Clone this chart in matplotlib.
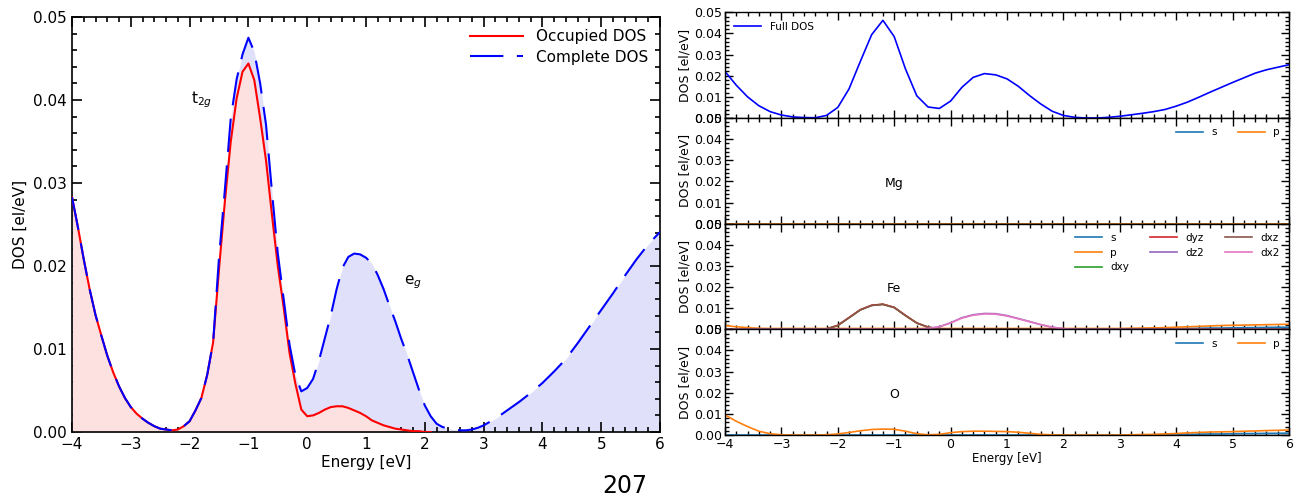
import numpy as np
import matplotlib
matplotlib.use("Agg")
import matplotlib.pyplot as plt
from matplotlib.ticker import MultipleLocator, FormatStrFormatter

# ---------------- Left panel data ----------------
energy_complete = [-4.0, -3.9, -3.8, -3.7, -3.6, -3.5, -3.4, -3.3, -3.2, -3.1, -3.0, -2.9, -2.8, -2.7,
                   -2.6, -2.5, -2.4, -2.3, -2.2, -2.1, -2.0, -1.9, -1.8, -1.7, -1.6, -1.5, -1.4, -1.3,
                   -1.2, -1.1, -1.0, -0.9, -0.8, -0.7, -0.6, -0.5, -0.4, -0.3, -0.2, -0.1, 0.0, 0.1,
                   0.2, 0.3, 0.4, 0.5, 0.6, 0.7, 0.8, 0.9, 1.0, 1.1, 1.2, 1.3, 1.4, 1.5, 1.6, 1.7, 1.8,
                   1.9, 2.0, 2.1, 2.2, 2.3, 2.4, 2.5, 2.6, 2.7, 2.8, 2.9, 3.0, 3.2, 3.4, 3.6, 3.8, 4.0,
                   4.2, 4.4, 4.6, 4.8, 5.0, 5.2, 5.4, 5.6, 5.8, 6.0]
complete_dos = [0.0283, 0.0247, 0.0208, 0.0172, 0.0141, 0.0116, 0.0092, 0.0072, 0.0055, 0.0041, 0.0030,
                0.0022, 0.0016, 0.0011, 0.0007, 0.0004, 0.0003, 0.0002, 0.0003, 0.0007, 0.0013, 0.0026,
                0.0041, 0.0069, 0.0108, 0.0210, 0.0292, 0.0378, 0.0425, 0.0455, 0.0475, 0.0458, 0.0420,
                0.0370, 0.0290, 0.0215, 0.0160, 0.0105, 0.0068, 0.0049, 0.0053, 0.0064, 0.0086, 0.0113,
                0.0140, 0.0172, 0.0198, 0.0211, 0.0215, 0.0214, 0.0210, 0.0203, 0.0189, 0.0172, 0.0152,
                0.0133, 0.0112, 0.0093, 0.0072, 0.0051, 0.0032, 0.0019, 0.0010, 0.0006, 0.0004, 0.0003,
                0.0002, 0.0002, 0.0003, 0.0005, 0.0008, 0.0016, 0.0026, 0.0036, 0.0047, 0.0059, 0.0073,
                0.0088, 0.0107, 0.0127, 0.0147, 0.0167, 0.0188, 0.0208, 0.0226, 0.0241]

energy_occupied = [-4.0, -3.9, -3.8, -3.7, -3.6, -3.5, -3.4, -3.3, -3.2, -3.1, -3.0, -2.9, -2.8, -2.7,
                   -2.6, -2.5, -2.4, -2.3, -2.2, -2.1, -2.0, -1.9, -1.8, -1.7, -1.6, -1.5, -1.4, -1.3,
                   -1.2, -1.1, -1.0, -0.9, -0.8, -0.7, -0.6, -0.5, -0.4, -0.3, -0.2, -0.1, 0.0, 0.1,
                   0.2, 0.3, 0.4, 0.5, 0.6, 0.7, 0.8, 0.9, 1.0, 1.1, 1.2, 1.3, 1.4, 1.5, 1.6, 1.7, 1.8,
                   1.9, 2.0, 2.1]
occupied_dos = [0.0283, 0.0247, 0.0208, 0.0172, 0.0141, 0.0116, 0.0092, 0.0072, 0.0055, 0.0041, 0.0030,
                0.0022, 0.0016, 0.0011, 0.0007, 0.0004, 0.0003, 0.0002, 0.0003, 0.0007, 0.0013, 0.0026,
                0.0041, 0.0069, 0.0108, 0.0196, 0.0278, 0.0350, 0.0402, 0.0434, 0.0444, 0.0424, 0.0378,
                0.0327, 0.0262, 0.0200, 0.0150, 0.0095, 0.0058, 0.0027, 0.0019, 0.0020, 0.0023, 0.0027,
                0.0030, 0.0031, 0.0031, 0.0029, 0.0026, 0.0023, 0.0019, 0.0014, 0.0011, 0.0008, 0.0006,
                0.0004, 0.0003, 0.0002, 0.0001, 0.0001, 0.0000, 0.0000]

# ---------------- Right panel data ----------------
energy_r = [-4.0, -3.8, -3.6, -3.4, -3.2, -3.0, -2.8, -2.6, -2.4, -2.2, -2.0, -1.8, -1.6, -1.4, -1.2,
            -1.0, -0.8, -0.6, -0.4, -0.2, 0.0, 0.2, 0.4, 0.6, 0.8, 1.0, 1.2, 1.4, 1.6, 1.8, 2.0, 2.2,
            2.4, 2.6, 2.8, 3.0, 3.2, 3.4, 3.6, 3.8, 4.0, 4.2, 4.4, 4.6, 4.8, 5.0, 5.2, 5.4, 5.6, 5.8, 6.0]
full_dos = [0.0220, 0.0155, 0.0100, 0.0058, 0.0030, 0.0014, 0.0005, 0.0002, 0.0001, 0.0012, 0.0050,
            0.0138, 0.0268, 0.0394, 0.0462, 0.0385, 0.0232, 0.0105, 0.0052, 0.0045, 0.0080, 0.0145,
            0.0192, 0.0210, 0.0204, 0.0185, 0.0150, 0.0106, 0.0066, 0.0032, 0.0012, 0.0003, 0.0000,
            0.0000, 0.0003, 0.0008, 0.0015, 0.0022, 0.0030, 0.0040, 0.0056, 0.0075, 0.0098, 0.0122,
            0.0145, 0.0168, 0.0190, 0.0212, 0.0228, 0.0240, 0.0252]

mg_s = [0.0] * len(energy_r)
mg_p = [0.0] * len(energy_r)

fe_s = [0.0, 0.0, 0.0, 0.0, 0.0, 0.0, 0.0, 0.0, 0.0, 0.0, 0.0, 0.0, 0.0, 0.0, 0.0, 0.0, 0.0, 0.0,
        0.0, 0.0, 0.0, 0.0, 0.0, 0.0, 0.0, 0.0, 0.0, 0.0, 0.0, 0.0, 0.0, 0.0, 0.0, 0.0, 0.0, 0.0,
        0.0001, 0.0002, 0.0002, 0.0003, 0.0004, 0.0004, 0.0005, 0.0006, 0.0006, 0.0007, 0.0008,
        0.0008, 0.0009, 0.0010, 0.0010]
fe_p = [0.0018, 0.0012, 0.0008, 0.0005, 0.0004, 0.0004, 0.0004, 0.0004, 0.0004, 0.0004, 0.0004,
        0.0004, 0.0004, 0.0004, 0.0004, 0.0004, 0.0004, 0.0004, 0.0004, 0.0004, 0.0004, 0.0004,
        0.0004, 0.0004, 0.0004, 0.0004, 0.0004, 0.0004, 0.0004, 0.0004, 0.0004, 0.0004, 0.0004,
        0.0004, 0.0004, 0.0004, 0.0005, 0.0006, 0.0007, 0.0008, 0.0010, 0.0012, 0.0014, 0.0016,
        0.0018, 0.0019, 0.0020, 0.0021, 0.0022, 0.0023, 0.0024]
fe_dxy = [0.0, 0.0, 0.0, 0.0, 0.0, 0.0, 0.0, 0.0, 0.0, 0.0002, 0.0018, 0.0055, 0.0092, 0.0113, 0.0118,
          0.0103, 0.0065, 0.0030, 0.0010, 0.0003, 0.0001, 0.0, 0.0, 0.0, 0.0, 0.0, 0.0, 0.0, 0.0, 0.0,
          0.0, 0.0, 0.0, 0.0, 0.0, 0.0, 0.0, 0.0, 0.0, 0.0, 0.0, 0.0, 0.0, 0.0, 0.0, 0.0, 0.0, 0.0,
          0.0, 0.0, 0.0]
fe_dyz = [0.0, 0.0, 0.0, 0.0, 0.0, 0.0, 0.0, 0.0, 0.0, 0.0002, 0.0019, 0.0056, 0.0093, 0.0114, 0.0119,
          0.0104, 0.0066, 0.0030, 0.0010, 0.0003, 0.0001, 0.0, 0.0, 0.0, 0.0, 0.0, 0.0, 0.0, 0.0, 0.0,
          0.0, 0.0, 0.0, 0.0, 0.0, 0.0, 0.0, 0.0, 0.0, 0.0, 0.0, 0.0, 0.0, 0.0, 0.0, 0.0, 0.0, 0.0,
          0.0, 0.0, 0.0]
fe_dxz = [0.0, 0.0, 0.0, 0.0, 0.0, 0.0, 0.0, 0.0, 0.0, 0.0002, 0.0018, 0.0055, 0.0092, 0.0113, 0.0118,
          0.0103, 0.0065, 0.0030, 0.0010, 0.0003, 0.0001, 0.0, 0.0, 0.0, 0.0, 0.0, 0.0, 0.0, 0.0, 0.0,
          0.0, 0.0, 0.0, 0.0, 0.0, 0.0, 0.0, 0.0, 0.0, 0.0, 0.0, 0.0, 0.0, 0.0, 0.0, 0.0, 0.0, 0.0,
          0.0, 0.0, 0.0]
fe_dz2 = [0.0, 0.0, 0.0, 0.0, 0.0, 0.0, 0.0, 0.0, 0.0, 0.0, 0.0, 0.0, 0.0, 0.0, 0.0, 0.0, 0.0, 0.0,
          0.0004, 0.0012, 0.0031, 0.0055, 0.0069, 0.0075, 0.0074, 0.0065, 0.0051, 0.0037, 0.0022,
          0.0010, 0.0003, 0.0, 0.0, 0.0, 0.0, 0.0, 0.0, 0.0, 0.0, 0.0, 0.0, 0.0, 0.0, 0.0, 0.0, 0.0,
          0.0, 0.0, 0.0, 0.0, 0.0]
fe_dx2 = [0.0, 0.0, 0.0, 0.0, 0.0, 0.0, 0.0, 0.0, 0.0, 0.0, 0.0, 0.0, 0.0, 0.0, 0.0, 0.0, 0.0, 0.0,
          0.0004, 0.0012, 0.0030, 0.0053, 0.0067, 0.0073, 0.0072, 0.0063, 0.0050, 0.0036, 0.0022,
          0.0010, 0.0003, 0.0, 0.0, 0.0, 0.0, 0.0, 0.0, 0.0, 0.0, 0.0, 0.0, 0.0, 0.0, 0.0, 0.0, 0.0,
          0.0, 0.0, 0.0, 0.0, 0.0]

o_s = [0.0, 0.0, 0.0, 0.0, 0.0, 0.0, 0.0, 0.0, 0.0, 0.0, 0.0, 0.0, 0.0, 0.0, 0.0, 0.0, 0.0, 0.0,
       0.0, 0.0, 0.0, 0.0, 0.0, 0.0, 0.0, 0.0, 0.0, 0.0, 0.0, 0.0, 0.0, 0.0, 0.0, 0.0, 0.0, 0.0,
       0.0, 0.0, 0.0001, 0.0002, 0.0003, 0.0003, 0.0004, 0.0005, 0.0005, 0.0006, 0.0007, 0.0007,
       0.0008, 0.0008, 0.0009]
o_p = [0.0095, 0.0065, 0.0040, 0.0018, 0.0006, 0.0001, 0.0, 0.0, 0.0, 0.0001, 0.0005, 0.0012, 0.0020,
       0.0026, 0.0028, 0.0027, 0.0018, 0.0006, 0.0001, 0.0003, 0.0011, 0.0016, 0.0018, 0.0018, 0.0017,
       0.0016, 0.0013, 0.0008, 0.0003, 0.0001, 0.0, 0.0, 0.0, 0.0, 0.0, 0.0, 0.0001, 0.0002, 0.0003,
       0.0005, 0.0007, 0.0010, 0.0012, 0.0014, 0.0015, 0.0016, 0.0018, 0.0019, 0.0021, 0.0022, 0.0024]

# ---------------- Figure ----------------
W, H = 1305, 499
fig = plt.figure(figsize=(W / 100, H / 100), dpi=100)


def fx(px):
    return px / W


def fy(py):
    return 1 - py / H


# Left axes
axL = fig.add_axes([fx(72), fy(432), fx(660) - fx(72), fy(17) - fy(432)])
axL.fill_between(energy_complete, complete_dos, 0, color="#e0e0fb", lw=0, zorder=1)
axL.fill_between(energy_occupied, occupied_dos, 0, color="#fde0e0", lw=0, zorder=2)
axL.plot(energy_occupied, occupied_dos, color="red", lw=1.5, label="Occupied DOS", zorder=3)
axL.plot(energy_complete, complete_dos, color="blue", lw=1.5, ls=(0, (16, 6.5)),
         label="Complete DOS", zorder=4)
axL.set_xlim(-4, 6)
axL.set_ylim(0, 0.05)
axL.xaxis.set_major_locator(MultipleLocator(1))
axL.xaxis.set_minor_locator(MultipleLocator(0.2))
axL.yaxis.set_major_locator(MultipleLocator(0.01))
axL.yaxis.set_minor_locator(MultipleLocator(0.002))
axL.yaxis.set_major_formatter(FormatStrFormatter("%.2f"))
axL.tick_params(which="both", direction="in", top=True, right=True, width=1.2)
axL.tick_params(which="major", length=7, labelsize=11)
axL.tick_params(which="minor", length=3.3)
for s in axL.spines.values():
    s.set_linewidth(1.2)
axL.set_xlabel("Energy [eV]", fontsize=11, labelpad=2)
axL.set_ylabel("DOS [el/eV]", fontsize=11, labelpad=4)
axL.text(-1.97, 0.0400, r"t$_{2g}$", fontsize=11, va="center", ha="left")
axL.text(1.65, 0.0180, r"e$_{g}$", fontsize=11, va="center", ha="left")
axL.legend(loc="upper right", frameon=False, fontsize=11, handlelength=3.5,
           borderaxespad=0.4, labelspacing=0.35)

# Right axes (4 stacked)
top_px, bot_px = 12.3, 435
h_px = (bot_px - top_px) / 4
axes_r = []
for i in range(4):
    t = top_px + i * h_px
    ax = fig.add_axes([fx(725), fy(t + h_px), fx(1289) - fx(725), h_px / H])
    axes_r.append(ax)

tab = plt.get_cmap("tab10").colors

ax = axes_r[0]
ax.plot(energy_r, full_dos, color="blue", lw=1.2, label="Full DOS")
ax.legend(loc="upper left", frameon=False, fontsize=7.5, handlelength=2.6)

ax = axes_r[1]
ax.plot(energy_r, mg_s, color=tab[0], lw=1.2, label="s")
ax.plot(energy_r, mg_p, color=tab[1], lw=1.2, label="p")
ax.text(-1.0, 0.0192, "Mg", fontsize=9, ha="center", va="center")
ax.legend(loc="upper right", frameon=False, fontsize=7.5, ncol=2, handlelength=2.6)

ax = axes_r[2]
ax.fill_between(energy_r, 0, fe_s, color="slategray", alpha=0.5, lw=0)
ax.plot(energy_r, fe_s, color=tab[0], lw=1.2, label="s")
ax.plot(energy_r, fe_p, color=tab[1], lw=1.2, label="p")
ax.plot(energy_r, fe_dxy, color=tab[2], lw=1.2, label="dxy")
ax.plot(energy_r, fe_dyz, color=tab[3], lw=1.2, label="dyz")
ax.plot(energy_r, fe_dz2, color=tab[4], lw=1.2, label="dz2")
ax.plot(energy_r, fe_dxz, color=tab[5], lw=1.2, label="dxz")
ax.plot(energy_r, fe_dx2, color=tab[6], lw=1.2, label="dx2")
ax.text(-1.0, 0.0192, "Fe", fontsize=9, ha="center", va="center")
ax.legend(loc="upper right", frameon=False, fontsize=7.5, ncol=3, handlelength=2.6,
          labelspacing=0.45)

ax = axes_r[3]
ax.fill_between(energy_r, 0, o_s, color="slategray", alpha=0.5, lw=0)
ax.plot(energy_r, o_s, color=tab[0], lw=1.2, label="s")
ax.plot(energy_r, o_p, color=tab[1], lw=1.2, label="p")
ax.text(-1.0, 0.0190, "O", fontsize=9, ha="center", va="center")
ax.legend(loc="upper right", frameon=False, fontsize=7.5, ncol=2, handlelength=2.6)

for i, ax in enumerate(axes_r):
    ax.set_xlim(-4, 6)
    ax.set_ylim(0, 0.05)
    ax.xaxis.set_major_locator(MultipleLocator(1))
    ax.xaxis.set_minor_locator(MultipleLocator(0.2))
    ax.yaxis.set_major_locator(MultipleLocator(0.01))
    ax.yaxis.set_minor_locator(MultipleLocator(0.002))
    ax.yaxis.set_major_formatter(FormatStrFormatter("%.2f"))
    ax.tick_params(which="both", direction="in", top=True, right=True, width=1.0)
    ax.tick_params(which="major", length=5.5, labelsize=9, pad=2)
    ax.tick_params(which="minor", length=2.7)
    for s in ax.spines.values():
        s.set_linewidth(1.0)
    ax.set_ylabel("DOS [el/eV]", fontsize=9, labelpad=2)
    if i < 3:
        ax.tick_params(labelbottom=False)
axes_r[3].set_xlabel("Energy [eV]", fontsize=8.5, labelpad=1)

fig.text(fx(625), fy(474), "207", fontsize=17, ha="center", va="top")

fig.savefig("out.png", dpi=100)
